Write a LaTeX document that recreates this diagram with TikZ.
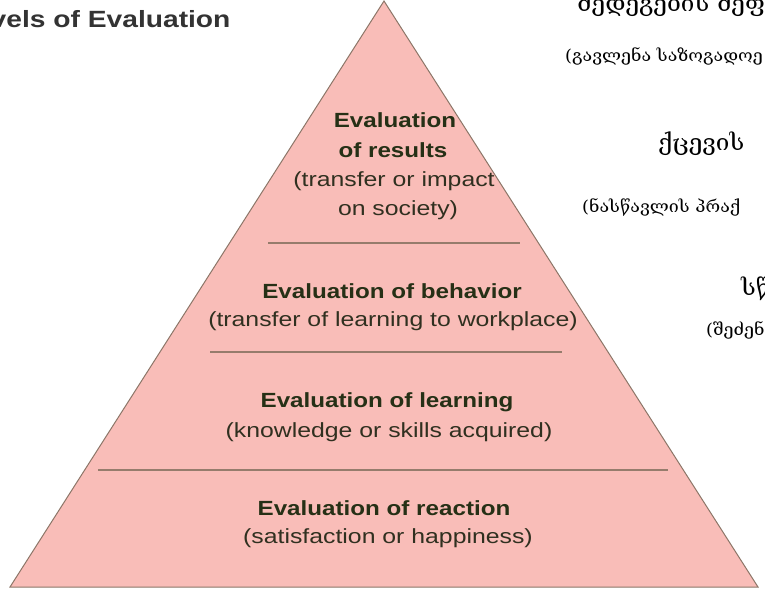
\documentclass[tikz,border=0pt]{standalone}
\usepackage{fontspec}
\setmainfont{Liberation Sans}
\newfontfamily\evalfont[FakeStretch=1.18]{Liberation Sans}
\newfontfamily\evalsubfont[FakeStretch=1.21]{Liberation Sans}
\newfontfamily\titlefont[FakeStretch=1.2]{Liberation Sans}
\newfontfamily\geofont[Script=Georgian,FakeStretch=1.08]{DejaVu Serif}
\definecolor{pyrfill}{RGB}{249,189,184}
\definecolor{pyredge}{RGB}{140,118,104}
\definecolor{pyrline}{RGB}{150,124,108}
\definecolor{headcol}{RGB}{38,48,22}
\definecolor{subcol}{RGB}{48,48,32}
\tikzset{
  evalhead/.style={font=\evalfont\bfseries\fontsize{20.5}{24}\selectfont, text=headcol, anchor=base, inner sep=0pt},
  evalsub/.style={font=\evalsubfont\fontsize{20.5}{24}\selectfont, text=subcol, anchor=base, inner sep=0pt},
  geohead/.style={font=\geofont\fontsize{22.5}{26}\selectfont, anchor=base west, inner sep=0pt},
  geosub/.style={font=\geofont\fontsize{16.5}{20}\selectfont, anchor=base west, inner sep=0pt},
  divider/.style={draw=pyrline, line width=1.4pt}
}
\begin{document}
\begin{tikzpicture}[x=1pt,y=-1pt]
\useasboundingbox (0,0) rectangle (765,590);
\clip (0,0) rectangle (765,590);

% pyramid
\draw[fill=pyrfill, draw=pyredge, line width=1pt] (10,587) -- (384,1) -- (758,587) -- cycle;
\draw[divider] (268,243) -- (520,243);
\draw[divider] (210,352) -- (562,352);
\draw[divider] (98,470) -- (668,470);

% levels
\node[evalhead] (res1) at (395,127) {Evaluation};
\node[evalhead] (res2) at (393,157) {of results};
\node[evalsub]  (res3) at (394,186) {(transfer or impact};
\node[evalsub]  (res4) at (398,215) {on society)};

\node[evalhead] (beh1) at (392,298) {Evaluation of behavior};
\node[evalsub]  (beh2) at (393,326) {(transfer of learning to workplace)};

\node[evalhead] (lea1) at (387,407) {Evaluation of learning};
\node[evalsub]  (lea2) at (389,437) {(knowledge or skills acquired)};

\node[evalhead] (rea1) at (384,515) {Evaluation of reaction};
\node[evalsub]  (rea2) at (388,543) {(satisfaction or happiness)};

% title, cut at the left edge
\node[font=\titlefont\bfseries\fontsize{23.5}{28}\selectfont, text=black!80, anchor=base west, inner sep=0pt] (title) at (-9.5,27) {vels of Evaluation};

% georgian labels, cut at the right edge
\node[geohead] (geo1) at (577,11) {შედეგების შეფ};
\node[geosub]  (geo2) at (565,61) {(გავლენა საზოგადოე};
\node[geohead] (geo3) at (658,150) {ქცევის};
\node[geosub]  (geo4) at (582,212) {(ნასწავლის პრაქ};
\node[geohead] (geo5) at (741,295) {სწ};
\node[geosub]  (geo6) at (706,335) {(შეძენ};
\end{tikzpicture}
\end{document}
